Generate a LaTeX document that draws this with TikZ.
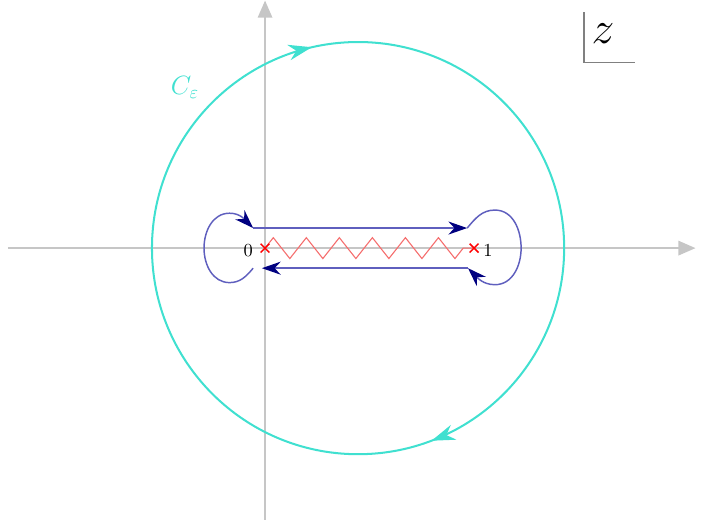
\documentclass[tikz,border=0pt]{standalone}
\usetikzlibrary{arrows.meta,decorations.pathmorphing,decorations.markings,shapes.misc}
\definecolor{turq}{RGB}{64,224,208}
\definecolor{contourline}{RGB}{95,95,190}
\definecolor{tipnavy}{RGB}{0,0,128}
\definecolor{cutred}{RGB}{245,110,110}
\tikzset{
  axis/.style={line width=1.5pt, gray!45, -{Triangle[length=0.33cm,width=0.27cm]}},
  circ/.style={line width=1.1pt, turq},
  contour/.style={line width=0.8pt, contourline, -{Stealth[color=tipnavy,length=0.36cm,width=0.25cm]}},
  cut/.style={cutred, line width=0.6pt, decorate,
    decoration={zigzag, segment length=0.632cm, amplitude=0.2cm}},
  pole/.style={draw=red, line width=0.8pt, cross out, minimum size=4pt, inner sep=0pt}
}
\begin{document}
\begin{tikzpicture}[scale=4]
    \useasboundingbox (-1.268,-1.335) rectangle (2.100,1.187);
    % axes
    \coordinate (xl) at (-1.23,0); \coordinate (xr) at (2.06,0);
    \coordinate (yb) at (0,-1.30); \coordinate (yt) at (0,1.185);
    \draw[axis] (xl) -- (xr);
    \draw[axis] (yb) -- (yt);
    % big circle
    \coordinate (cc) at (0.445,0);
    \draw[circ, postaction={decorate}, decoration={markings,
        mark=at position 0.214 with {\arrow{Stealth[length=0.45cm,width=0.3cm]}},
        mark=at position 0.692 with {\arrow{Stealth[length=0.45cm,width=0.3cm]}}}]
      (cc) ++(180:0.986) arc[start angle=180, end angle=-180, radius=0.986];
    \node[turq, font=\Large] (ceps) at (-0.383,0.770) {$C_\varepsilon$};
    % branch cut and poles
    \coordinate (O) at (0,0); \coordinate (one) at (1,0);
    \draw[cut] (O) -- (one);
    \node[pole] (xO) at (O) {}; \node[pole] (xone) at (one) {};
    \node (zero) at (-0.08,-0.01) {$0$};
    \node (unit) at (1.067,-0.01) {$1$};
    % keyhole contour
    \coordinate (a1) at (-0.057,0.096); \coordinate (a2) at (0.967,0.096);
    \coordinate (b1) at (0.971,-0.096); \coordinate (b2) at (-0.015,-0.096);
    \coordinate (b3) at (-0.057,-0.096);
    \draw[contour] (a1) -- (a2);
    \draw[contour] (a2) to[out=50,in=180] (1.10,0.182) to[out=0,in=90] (1.225,0)
                        to[out=-90,in=0] (1.10,-0.175) to[out=180,in=-45] (b1);
    \draw[contour] (b1) -- (b2);
    \draw[contour] (b3) to[out=-130,in=0] (-0.17,-0.165) to[out=180,in=-90] (-0.292,0)
                        to[out=90,in=180] (-0.17,0.167) to[out=0,in=135] (a1);
    % z box
    \coordinate (zt) at (1.526,1.129); \coordinate (zc) at (1.526,0.890);
    \coordinate (zr) at (1.770,0.890);
    \draw[gray, line width=0.6pt] (zt) -- (zc) -- (zr);
    \node[font=\Huge] (zlab) at (1.617,1.025) {$z$};
\end{tikzpicture}
\end{document}
